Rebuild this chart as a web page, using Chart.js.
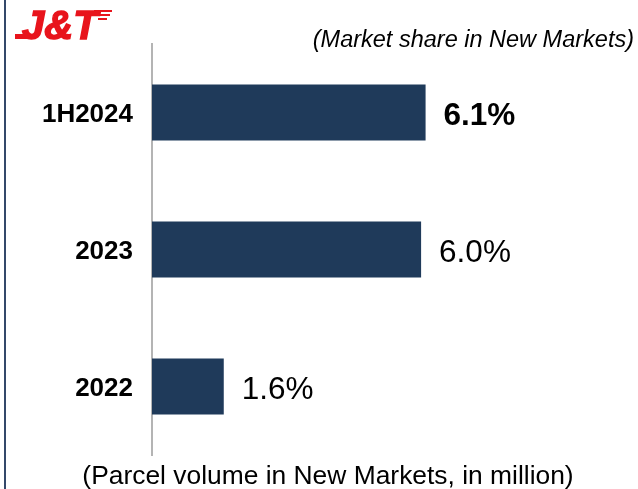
<!DOCTYPE html>
<html>
<head>
<meta charset="utf-8">
<script src="https://cdn.jsdelivr.net/npm/chart.js@4.4.0/dist/chart.umd.min.js"></script>
<style>
  body { margin: 0; background: #fff; }
</style>
</head>
<body>
<canvas id="myChart" width="638" height="489"></canvas>
<script>
const periods = ["1H2024", "2023", "2022"];
const marketShare = [6.1, 6.0, 1.6];
const shareLabels = ["6.1%", "6.0%", "1.6%"];

const FONT = "'Liberation Sans', Arial, sans-serif";
const barColor = "#1f3a5a";

// page decorations: left rule, logo, heading and footnote
const decorations = {
  id: "decorations",
  afterDraw(chart) {
    const ctx = chart.ctx;
    ctx.save();

    ctx.fillStyle = "#34486a";
    ctx.fillRect(4, 0, 2, chart.height);

    // logo
    ctx.fillStyle = "#e8141c";
    ctx.strokeStyle = "#e8141c";
    ctx.font = "italic bold 40px " + FONT;
    ctx.textBaseline = "alphabetic";
    ctx.textAlign = "left";
    ctx.lineWidth = 1.5;
    ctx.fillText("J&T", 22, 39);
    ctx.strokeText("J&T", 22, 39);
    ctx.fillRect(15, 34, 14, 5);
    ctx.lineWidth = 2;
    [[94, 11, 112, 11], [96, 15, 110, 15], [98, 19, 107, 19]].forEach(([x1, y1, x2, y2]) => {
      ctx.beginPath();
      ctx.moveTo(x1, y1);
      ctx.lineTo(x2, y2);
      ctx.stroke();
    });

    ctx.fillStyle = "#000";
    ctx.font = "italic 23.5px " + FONT;
    ctx.textAlign = "right";
    ctx.fillText("(Market share in New Markets)", 634, 47);

    ctx.font = "26.4px " + FONT;
    ctx.textAlign = "center";
    ctx.fillText("(Parcel volume in New Markets, in million)", 328, 484);

    ctx.restore();
  },
};

// value labels at the end of each bar
const barLabels = {
  id: "barLabels",
  afterDatasetsDraw(chart) {
    const ctx = chart.ctx;
    const meta = chart.getDatasetMeta(0);
    ctx.save();
    ctx.fillStyle = "#000";
    ctx.textAlign = "left";
    ctx.textBaseline = "middle";
    meta.data.forEach((bar, i) => {
      ctx.font = (i === 0 ? "bold " : "") + "31.5px " + FONT;
      ctx.fillText(shareLabels[i], bar.x + 18, bar.y + 4);
    });
    ctx.restore();
  },
};

const config = {
  type: "bar",
  data: {
    labels: periods,
    datasets: [
      {
        data: marketShare,
        backgroundColor: barColor,
        borderWidth: 0,
        barPercentage: 0.41,
        categoryPercentage: 1,
      },
    ],
  },
  options: {
    indexAxis: "y",
    responsive: false,
    animation: false,
    layout: {
      padding: { top: 44, bottom: 34, left: 0, right: 37.5 },
    },
    plugins: {
      legend: { display: false },
      tooltip: { enabled: false },
    },
    scales: {
      x: {
        display: false,
        min: 0,
        max: 10,
      },
      y: {
        afterFit(scale) {
          scale.width = 152;
        },
        grid: { display: false },
        border: { display: true, color: "#b4b4b4", width: 2 },
        ticks: {
          color: "#000",
          padding: 11,
          labelOffset: 2,
          font: { family: FONT, size: 26, weight: "bold" },
        },
      },
    },
  },
  plugins: [decorations, barLabels],
};

new Chart(document.getElementById("myChart"), config);
</script>
</body>
</html>
